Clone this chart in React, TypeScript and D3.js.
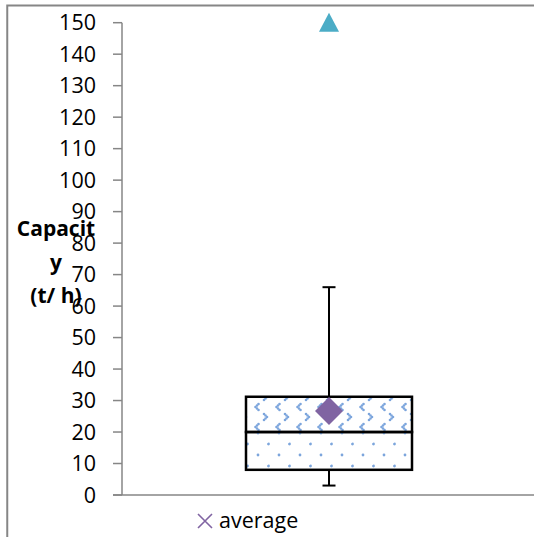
import React from "react";
import * as d3 from "d3";

const categories = ["Capacity"];
const minValues = [3];
const q1Values = [8];
const medianValues = [20];
const q3Values = [31.2];
const maxValues = [66];
const meanValues = [26.7];
const outlierValues = [150];
const yTicks = d3.range(0, 151, 10);
const legendLabels = ["average"];
const titleLines = ["Capacit", "y", "(t/ h)"];

const W = 534;
const H = 537;
const FONT = "'Open Sans', 'DejaVu Sans', sans-serif";

export default function App() {
  const plotLeft = 122;
  const plotRight = 536;
  const y = d3.scaleLinear().domain([0, 150]).range([495, 22.7]);
  const x = d3.scaleBand().domain(categories).range([plotLeft, plotRight]);
  const bw = 166;
  const axisColor = "#868686";
  const dot = "#5b8fd4";

  const lt = (px: number, py: number, k: string) => (
    <g key={k}>
      <circle cx={px + 3} cy={py - 3} r={1.3} />
      <circle cx={px + 1.5} cy={py - 1.5} r={1.3} />
      <circle cx={px} cy={py} r={1.3} />
      <circle cx={px + 1.5} cy={py + 1.5} r={1.3} />
      <circle cx={px + 3} cy={py + 3} r={1.3} />
    </g>
  );
  const gt = (px: number, py: number, k: string) => (
    <g key={k}>
      <circle cx={px - 3} cy={py - 3} r={1.3} />
      <circle cx={px - 1.5} cy={py - 1.5} r={1.3} />
      <circle cx={px} cy={py} r={1.3} />
      <circle cx={px - 1.5} cy={py + 1.5} r={1.3} />
      <circle cx={px - 3} cy={py + 3} r={1.3} />
    </g>
  );

  return (
    <svg
      width={W}
      height={H}
      style={{ position: "absolute", left: 0, top: 0 }}
      fontFamily={FONT}
    >
      <defs>
        <pattern id="divot" patternUnits="userSpaceOnUse" width={21} height={20} x={246} y={397}>
          <g fill={dot} opacity={0.8}>
            {lt(9.5, 10, "a")}
            {gt(21, 0, "b")}
            {gt(0, 0, "c")}
            {gt(21, 20, "d")}
            {gt(0, 20, "e")}
          </g>
        </pattern>
        <pattern id="dots" patternUnits="userSpaceOnUse" width={21} height={22} x={247} y={433}>
          <g fill={dot} opacity={0.8}>
            <circle cx={0.5} cy={11} r={1.4} />
            <circle cx={21.5} cy={11} r={1.4} />
            <circle cx={11} cy={0} r={1.4} />
            <circle cx={11} cy={22} r={1.4} />
          </g>
        </pattern>
      </defs>

      <rect x={0} y={0} width={W} height={H} fill="#fff" />
      {/* outer border */}
      <rect x={7.25} y={5.5} width={W + 10} height={H + 10} fill="none" stroke={axisColor} strokeWidth={2} />

      {/* y axis */}
      <line x1={plotLeft} x2={plotLeft} y1={y(150)} y2={y(0)} stroke={axisColor} strokeWidth={1.5} />
      {yTicks.map((t) => (
        <g key={t}>
          <line x1={113} x2={plotLeft} y1={y(t)} y2={y(t)} stroke={axisColor} strokeWidth={1.5} />
          <text x={96} y={y(t)} dy="0.36em" textAnchor="end" fontSize={21.5} fill="#000">
            {t}
          </text>
        </g>
      ))}
      {/* x axis */}
      <line x1={113} x2={plotRight} y1={y(0)} y2={y(0)} stroke={axisColor} strokeWidth={1.5} />

      {/* axis title */}
      {titleLines.map((l, i) => (
        <text key={i} x={56} y={236 + i * 33.5} textAnchor="middle" fontSize={21} fontWeight="bold" fill="#000">
          {l}
        </text>
      ))}

      {categories.map((c, i) => {
        const cx = (x(c) as number) + x.bandwidth() / 2;
        const left = cx - bw / 2;
        return (
          <g key={c}>
            {/* whiskers */}
            <line x1={cx} x2={cx} y1={y(maxValues[i])} y2={y(q3Values[i])} stroke="#000" strokeWidth={2} />
            <line x1={cx - 6.5} x2={cx + 6.5} y1={y(maxValues[i])} y2={y(maxValues[i])} stroke="#000" strokeWidth={2} />
            <line x1={cx} x2={cx} y1={y(q1Values[i])} y2={y(minValues[i])} stroke="#000" strokeWidth={2} />
            <line x1={cx - 6.5} x2={cx + 6.5} y1={y(minValues[i])} y2={y(minValues[i])} stroke="#000" strokeWidth={2} />
            {/* box upper */}
            <rect x={left} y={y(q3Values[i])} width={bw} height={y(medianValues[i]) - y(q3Values[i])} fill="url(#divot)" stroke="#000" strokeWidth={2.5} />
            {/* box lower */}
            <rect x={left} y={y(medianValues[i])} width={bw} height={y(q1Values[i]) - y(medianValues[i])} fill="url(#dots)" stroke="#000" strokeWidth={2.5} />
            {/* mean diamond */}
            <path
              d={d3.symbol().type(d3.symbolSquare).size(392)() as string}
              transform={`translate(${cx},${y(meanValues[i])}) rotate(45)`}
              fill="#8064A2"
            />
            {/* outlier */}
            <path
              d={`M0,-10 L10,9 L-10,9 Z`}
              transform={`translate(${cx},${y(outlierValues[i])})`}
              fill="#4BACC6"
            />
          </g>
        );
      })}

      {/* legend */}
      {legendLabels.map((l) => (
        <g key={l} transform={`translate(205,521)`}>
          <path d="M-7,-7 L7,7 M-7,7 L7,-7" stroke="#8064A2" strokeWidth={1.6} />
          <text x={14} y={0} dy="0.33em" fontSize={21.5} fill="#000">
            {l}
          </text>
        </g>
      ))}
    </svg>
  );
}
